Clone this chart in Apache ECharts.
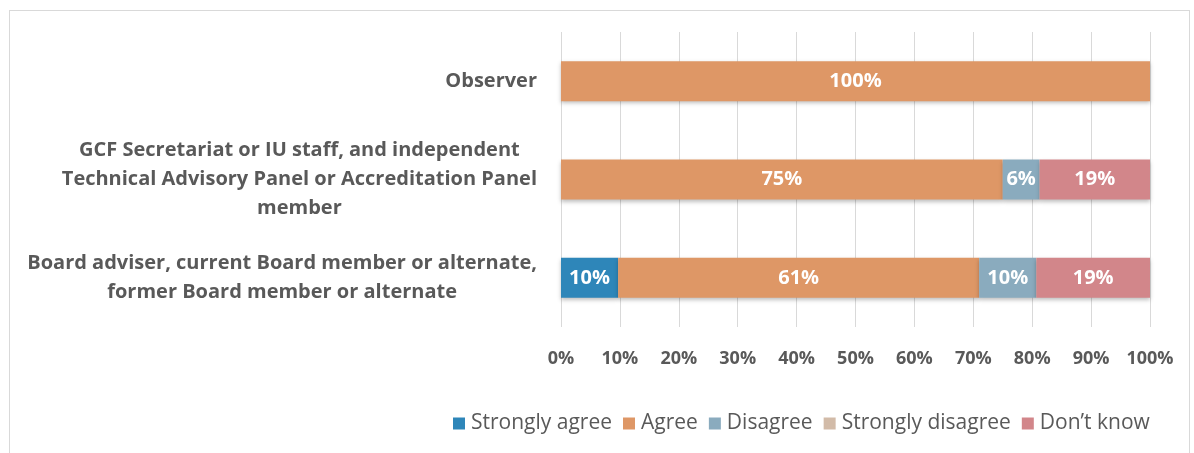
<!DOCTYPE html>
<html>
<head>
<meta charset="utf-8">
<script src="https://cdn.jsdelivr.net/npm/echarts@6/dist/echarts.min.js"></script>
<style>
  html, body { margin: 0; padding: 0; background: #fff; overflow: hidden; }
  .frame {
    position: absolute; left: 9px; top: 10px; width: 1181px; height: 470px;
    border: 1px solid #d9d9d9; box-sizing: border-box;
  }
  #chart { position: absolute; left: 0; top: 0; width: 1194px; height: 453px; }
</style>
</head>
<body>
<div class="frame"></div>
<div id="chart"></div>
<script>
// categories listed bottom to top
const groups = [
  "Board adviser, current Board member or alternate,\nformer Board member or alternate",
  "GCF Secretariat or IU staff, and independent\nTechnical Advisory Panel or Accreditation Panel\nmember",
  "Observer"
];
const stronglyAgree = [9.7, 0, 0];
const agree = [61.3, 75, 100];
const disagree = [9.7, 6.25, 0];
const stronglyDisagree = [0, 0, 0];
const dontKnow = [19.3, 18.75, 0];
const ticks = ["0%", "10%", "20%", "30%", "40%", "50%", "60%", "70%", "80%", "90%", "100%"];

const font = "'Open Sans', Lato, sans-serif";
const textGrey = "#595959";

let myChart = echarts.init(document.getElementById("chart"));

function mkSeries(name, data, color) {
  return {
    name: name,
    type: "bar",
    stack: "total",
    data: data,
    barWidth: 40,
    itemStyle: {
      color: color,
      shadowColor: "rgba(0,0,0,0.25)",
      shadowBlur: 4,
      shadowOffsetY: 2,
    },
    label: {
      show: true,
      color: "#fff",
      fontFamily: font,
      fontWeight: "bold",
      fontSize: 20,
      formatter: (p) => (p.value > 0 ? Math.round(p.value) + "%" : ""),
    },
  };
}

myChart.setOption({
  animation: false,
  grid: {
    left: 561,
    right: 44,
    top: 32,
    bottom: 126,
  },
  xAxis: {
    type: "value",
    min: 0,
    max: 100,
    interval: 10,
    axisLine: { show: false },
    axisTick: { show: false },
    splitLine: { lineStyle: { color: "#d9d9d9" } },
    axisLabel: {
      margin: 23,
      color: textGrey,
      fontFamily: font,
      fontWeight: "bold",
      fontSize: 18,
      formatter: (v) => ticks[Math.round(v / 10)],
    },
  },
  yAxis: {
    type: "category",
    data: groups,
    axisLine: { show: false },
    axisTick: { show: false },
    axisLabel: {
      margin: 24,
      align: "right",
      formatter: (v) => v.split("\n").map((s) => "{c|" + s + "}").join("\n"),
      rich: {
        c: {
          align: "center",
          color: textGrey,
          fontFamily: font,
          fontWeight: "bold",
          fontSize: 20,
          lineHeight: 29,
        },
      },
    },
  },
  legend: {
    left: 448,
    top: 408,
    itemWidth: 12,
    itemHeight: 12,
    itemGap: 11,
    icon: "rect",
    textStyle: {
      color: textGrey,
      fontFamily: font,
      fontSize: 21,
      padding: [0, 0, 0, 1],
    },
  },
  series: [
    mkSeries("Strongly agree", stronglyAgree, "#2e86b9"),
    mkSeries("Agree", agree, "#de9766"),
    mkSeries("Disagree", disagree, "#8aabbe"),
    mkSeries("Strongly disagree", stronglyDisagree, "#d2bba8"),
    mkSeries("Don\u2019t know", dontKnow, "#d2868a"),
  ],
});
</script>
</body>
</html>
